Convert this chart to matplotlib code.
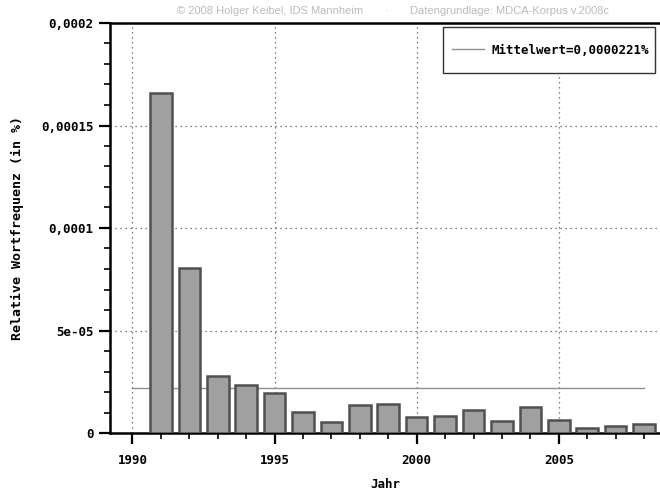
import matplotlib
matplotlib.use("Agg")
import matplotlib.pyplot as plt
from matplotlib.ticker import FixedLocator, MultipleLocator

years = [1991, 1992, 1993, 1994, 1995, 1996, 1997, 1998, 1999, 2000,
         2001, 2002, 2003, 2004, 2005, 2006, 2007, 2008]
values = [0.000166, 0.0000805, 0.0000280, 0.0000236, 0.0000195, 0.0000104,
          0.0000052, 0.0000138, 0.0000143, 0.0000077, 0.0000083, 0.0000110,
          0.0000059, 0.0000127, 0.0000065, 0.0000024, 0.0000036, 0.0000042]
mean_value = 0.0000221
mean_span = [1990, 2008]
x_ticks = [1990, 1995, 2000, 2005]
y_ticks = [0, 0.00005, 0.0001, 0.00015, 0.0002]
y_labels = ["0", "5e-05", "0,0001", "0,00015", "0,0002"]
legend_label = "Mittelwert=0,0000221%"

mono = "DejaVu Sans Mono"
fs = 9
fig = plt.figure(figsize=(6.6, 4.94), dpi=100)
ax = fig.add_axes([110/660, 1-433/494, 1.0 - 110/660, (433-23)/494])

ax.bar(years, values, width=0.76, color="#a0a0a0", edgecolor="#505050",
       linewidth=1.8, zorder=3)
ax.plot(mean_span, [mean_value, mean_value], color="#8f8f8f", linewidth=1.0,
        zorder=2, label=legend_label)

ax.set_xlim(1989.21, 2008.56)
ax.set_ylim(0, 0.0002)

ax.xaxis.set_major_locator(FixedLocator(x_ticks))
ax.xaxis.set_minor_locator(MultipleLocator(1))
ax.yaxis.set_major_locator(FixedLocator(y_ticks))
ax.yaxis.set_minor_locator(MultipleLocator(0.00001))
ax.set_yticklabels(y_labels)
ax.set_xticklabels([str(t) for t in x_ticks])

ax.tick_params(axis="both", which="major", direction="out", length=8, width=1.6,
               labelsize=fs, pad=4)
ax.tick_params(axis="x", which="major", pad=7)
ax.tick_params(axis="both", which="minor", direction="out", length=4.5, width=1.2)
for lbl in ax.get_xticklabels() + ax.get_yticklabels():
    lbl.set_fontfamily(mono)
    lbl.set_fontweight("bold")

ax.grid(True, which="major", linestyle=(0, (1, 3)), color="#555555",
        linewidth=0.9, zorder=1)

for s in ["left", "bottom", "top"]:
    ax.spines[s].set_linewidth(1.8)
ax.spines["right"].set_visible(False)

ax.set_xlabel("Jahr", fontfamily=mono, fontweight="bold", fontsize=fs, labelpad=8)
ax.set_ylabel("Relative Wortfrequenz (in %)", fontfamily=mono, fontweight="bold",
              fontsize=9.5, labelpad=12)

frame = plt.Rectangle((443/660, 1-73/494), (655-443)/660, 46/494,
                      transform=fig.transFigure, facecolor="white",
                      edgecolor="#333333", linewidth=1.0, zorder=6,
                      clip_on=False)
ax.add_patch(frame)
leg = ax.legend(loc="center left", bbox_to_anchor=(443/660, 1-50/494),
                bbox_transform=fig.transFigure, frameon=False,
                prop={"family": mono, "weight": "bold", "size": fs},
                handlelength=2.6, handletextpad=0.6, borderpad=0.7,
                borderaxespad=0)
leg.set_zorder(7)

fig.text(177/660, 1-11/494, "© 2008 Holger Keibel, IDS Mannheim", color="#bbbbbb",
         fontsize=8, va="center", ha="left", family="Liberation Sans")
fig.text(385/660, 1-11/494, "·", color="#bbbbbb", fontsize=8, va="center",
         family="Liberation Sans")
fig.text(410/660, 1-11/494, "Datengrundlage: MDCA-Korpus v.2008c", color="#bbbbbb",
         fontsize=8, va="center", ha="left", family="Liberation Sans")

fig.savefig("out.png", dpi=100)
